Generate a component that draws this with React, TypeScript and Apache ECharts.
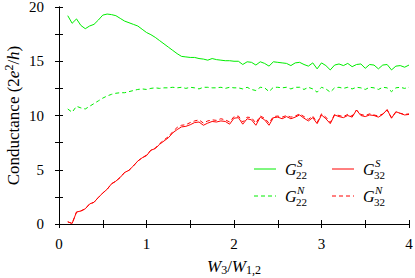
import React, { useEffect, useRef } from "react";
import * as echarts from "echarts";

const xValues = [0.10,0.15,0.20,0.25,0.30,0.35,0.40,0.45,0.50,0.55,0.60,0.65,0.70,0.75,0.80,0.85,0.90,0.95,1.00,1.05,1.10,1.15,1.20,1.25,1.30,1.35,1.40,1.45,1.50,1.55,1.60,1.65,1.70,1.75,1.80,1.85,1.90,1.95,2.00,2.05,2.10,2.15,2.20,2.25,2.30,2.35,2.40,2.45,2.50,2.55,2.60,2.65,2.70,2.75,2.80,2.85,2.90,2.95,3.00,3.05,3.10,3.15,3.20,3.25,3.30,3.35,3.40,3.45,3.50,3.55,3.60,3.65,3.70,3.75,3.80,3.85,3.90,3.95,4.00];

const g22S = [19.2,18.5,18.9,18.3,18.0,18.25,18.4,18.8,19.25,19.35,19.3,19.2,18.95,18.7,18.55,18.4,18.25,17.95,17.65,17.45,17.2,16.9,16.6,16.3,16.0,15.7,15.45,15.4,15.35,15.35,15.25,15.2,15.1,15.25,15.15,15.1,15.05,15.05,15.0,15.0,14.7,14.95,14.9,14.65,14.95,14.8,14.55,14.95,14.9,14.85,14.8,14.6,14.85,14.9,14.7,14.55,14.85,14.3,14.85,14.6,14.2,14.65,14.75,14.6,14.8,14.5,14.7,14.75,14.35,14.7,14.65,14.3,14.65,14.7,14.2,14.55,14.6,14.45,14.65];

const g22N = [10.6,10.3,10.85,10.7,10.6,10.85,11.1,11.35,11.6,11.8,11.95,12.05,12.1,12.1,12.2,12.3,12.4,12.45,12.4,12.5,12.55,12.5,12.55,12.55,12.6,12.55,12.6,12.5,12.6,12.55,12.45,12.6,12.6,12.55,12.55,12.6,12.5,12.6,12.55,12.55,12.45,12.6,12.4,12.3,12.6,12.55,12.2,12.6,12.6,12.55,12.6,12.45,12.6,12.6,12.4,12.6,12.45,12.15,12.6,12.45,12.15,12.55,12.6,12.5,12.6,12.45,12.6,12.55,12.4,12.6,12.55,12.4,12.6,12.55,12.2,12.55,12.6,12.5,12.6];

const g32S = [0.2,0.05,1.1,1.2,1.4,1.85,2.0,2.45,2.85,3.2,3.7,3.95,4.3,4.75,4.95,5.35,5.8,6.1,6.3,6.8,6.95,7.35,7.65,7.95,8.4,8.7,8.95,9.0,9.15,9.35,9.4,9.1,9.3,9.45,9.4,9.5,9.45,9.2,9.75,9.8,9.2,9.7,9.6,9.1,9.85,9.6,9.1,9.8,9.85,9.7,9.9,9.7,9.85,10.05,9.75,9.5,9.8,9.25,10.05,9.7,9.25,10.05,9.9,9.8,10.0,9.85,10.5,10.0,9.9,10.05,10.0,9.85,10.1,10.55,9.75,10.35,10.2,10.05,10.1];

const g32N = [0.2,0.05,1.1,1.2,1.4,1.85,2.0,2.45,2.85,3.2,3.7,3.95,4.3,4.75,4.95,5.35,5.8,6.1,6.35,6.8,7.0,7.4,7.75,8.05,8.5,8.9,9.1,9.15,9.35,9.5,9.6,9.3,9.5,9.6,9.55,9.7,9.6,9.4,9.9,9.95,9.4,9.85,9.8,9.3,9.95,9.75,9.3,9.9,9.95,9.85,10.0,9.85,9.95,10.15,9.9,9.65,9.95,9.35,10.15,9.85,9.35,10.1,10.0,9.9,10.1,9.95,10.5,10.1,10.0,10.15,10.05,9.95,10.15,10.5,9.8,10.3,10.2,10.1,10.15];

const xTicks = [0, 1, 2, 3, 4];
const yTicks = [0, 5, 10, 15, 20];

const GREEN = "#00ee00";
const RED = "#ff0000";
const FONT = "Liberation Serif";

function pairs(ys: number[]) {
  return xValues.map((x, i) => [x, ys[i]]);
}

function legendEntry(x: number, y: number, color: string, dashed: boolean, sup: string, sub: string) {
  return [
    {
      type: "line",
      shape: { x1: x, y1: y, x2: x + 22, y2: y },
      style: { stroke: color, lineWidth: 1, lineDash: dashed ? [4, 3] : null },
    },
    {
      type: "text",
      x: x + 31,
      y: y,
      style: { text: "G", fontFamily: FONT, fontStyle: "italic", fontSize: 16, fill: "#000", verticalAlign: "middle" },
    },
    {
      type: "text",
      x: x + 43,
      y: y - 6,
      style: { text: sup, fontFamily: FONT, fontStyle: "italic", fontSize: 11, fill: "#000", verticalAlign: "middle" },
    },
    {
      type: "text",
      x: x + 42,
      y: y + 6,
      style: { text: sub, fontFamily: FONT, fontSize: 11, fill: "#000", verticalAlign: "middle" },
    },
  ];
}

export default function App() {
  const ref = useRef<HTMLDivElement>(null);
  useEffect(() => {
    if (!ref.current) return;
    const chart = echarts.init(ref.current, null, { renderer: "svg" });
    const axisCommon = {
      axisLine: { show: true, lineStyle: { color: "#000", width: 1 } },
      axisTick: { show: true, inside: true, length: 4, lineStyle: { color: "#000", width: 1 } },
      splitLine: { show: false },
    };
    chart.setOption({
      animation: false,
      backgroundColor: "#fff",
      grid: { left: 59, right: 6, top: 7, bottom: 54, containLabel: false, outerBoundsMode: "none" },
      xAxis: [
        {
          type: "value",
          min: 0,
          max: 4,
          interval: 0.5,
          ...axisCommon,
          axisLabel: {
            margin: 12,
            fontFamily: FONT,
            fontSize: 15,
            color: "#000",
            formatter: (v: number) => (xTicks.includes(v) ? String(v) : ""),
          },
          name: "{i|W}{sub|3}{r|/}{i|W}{sub|1,2}",
          nameLocation: "middle",
          nameGap: 32,
          nameMoveOverlap: false,
          nameTextStyle: {
            rich: {
              i: { fontFamily: FONT, fontStyle: "italic", fontSize: 17, color: "#000" },
              r: { fontFamily: FONT, fontSize: 17, color: "#000" },
              sub: { fontFamily: FONT, fontSize: 12, color: "#000", padding: [8, 0, 0, 0] },
            },
          },
        },
        {
          type: "value",
          position: "top",
          min: 0,
          max: 4,
          interval: 0.5,
          ...axisCommon,
          axisLabel: { show: false },
        },
      ],
      yAxis: [
        {
          type: "value",
          min: 0,
          max: 20,
          interval: 2.5,
          ...axisCommon,
          axisLabel: {
            margin: 15,
            fontFamily: FONT,
            fontSize: 15,
            color: "#000",
            formatter: (v: number) => (yTicks.includes(v) ? String(v) : ""),
          },
          name: "{r|Conductance (2}{i|e}{sup|2}{r|/}{i|h}{r|)}",
          nameLocation: "middle",
          nameGap: 36,
          nameMoveOverlap: false,
          nameTextStyle: {
            rich: {
              i: { fontFamily: FONT, fontStyle: "italic", fontSize: 17, color: "#000" },
              r: { fontFamily: FONT, fontSize: 17, color: "#000" },
              sup: { fontFamily: FONT, fontSize: 12, color: "#000", padding: [0, 0, 8, 0] },
            },
          },
        },
        {
          type: "value",
          position: "right",
          min: 0,
          max: 20,
          interval: 2.5,
          ...axisCommon,
          axisLabel: { show: false },
        },
      ],
      series: [
        {
          name: "G22S",
          type: "line",
          data: pairs(g22S),
          showSymbol: false,
          lineStyle: { color: GREEN, width: 1 },
        },
        {
          name: "G22N",
          type: "line",
          data: pairs(g22N),
          showSymbol: false,
          lineStyle: { color: GREEN, width: 1, type: [4, 3] },
        },
        {
          name: "G32N",
          type: "line",
          data: pairs(g32N),
          showSymbol: false,
          lineStyle: { color: RED, width: 1, type: [4, 3] },
        },
        {
          name: "G32S",
          type: "line",
          data: pairs(g32S),
          showSymbol: false,
          lineStyle: { color: RED, width: 1 },
        },
      ],
      graphic: [
        ...legendEntry(254, 169, GREEN, false, "S", "22"),
        ...legendEntry(254, 196, GREEN, true, "N", "22"),
        ...legendEntry(332, 169, RED, false, "S", "32"),
        ...legendEntry(332, 196, RED, true, "N", "32"),
      ],
    });
    return () => chart.dispose();
  }, []);
  return <div ref={ref} style={{ width: 415, height: 278, position: "absolute", left: 0, top: 0 }} />;
}
